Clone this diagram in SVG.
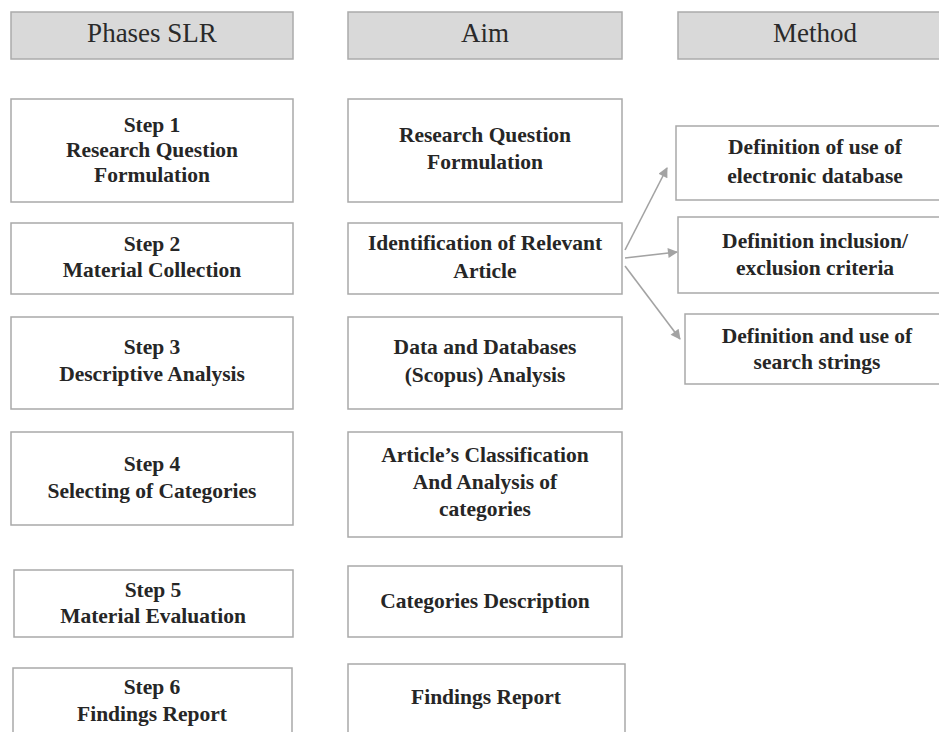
<svg xmlns="http://www.w3.org/2000/svg" width="939" height="732" viewBox="0 0 939 732">
<defs>
<style>
.hdr{fill:#d9d9d9;stroke:#ababab;stroke-width:1.5}
.box{fill:#ffffff;stroke:#a9a9a9;stroke-width:1.5}
.ht{font-family:"Liberation Serif","Times New Roman",serif;font-size:27px;fill:#2a2a2a;text-anchor:middle}
.bt{font-family:"Liberation Serif","Times New Roman",serif;font-size:21.5px;font-weight:bold;fill:#262626;text-anchor:middle}
.conn{stroke:#a3a3a3;stroke-width:1.6;fill:none;marker-end:url(#ah)}
</style>
<marker id="ah" viewBox="0 0 10 10" refX="9" refY="5" markerWidth="12" markerHeight="10" markerUnits="userSpaceOnUse" orient="auto">
<path d="M0,0 L10,5 L0,10 z" fill="#a3a3a3"/>
</marker>
</defs>
<rect width="939" height="732" fill="#ffffff"/>

<g id="hdr-phases"><rect class="hdr" x="11" y="12" width="282" height="47"/><text class="ht" x="152" y="42">Phases SLR</text></g>
<g id="hdr-aim"><rect class="hdr" x="348" y="12" width="274" height="47"/><text class="ht" x="485" y="42">Aim</text></g>
<g id="hdr-method"><rect class="hdr" x="678" y="12" width="274" height="47"/><text class="ht" x="815" y="42">Method</text></g>

<g id="step1"><rect class="box" x="11" y="99" width="282" height="103"/>
<text class="bt" x="152" y="132">Step 1</text><text class="bt" x="152" y="157">Research Question</text><text class="bt" x="152" y="182">Formulation</text></g>
<g id="step2"><rect class="box" x="11" y="223" width="282" height="71"/>
<text class="bt" x="152" y="251">Step 2</text><text class="bt" x="152" y="277">Material Collection</text></g>
<g id="step3"><rect class="box" x="11" y="317" width="282" height="92"/>
<text class="bt" x="152" y="354">Step 3</text><text class="bt" x="152" y="381">Descriptive Analysis</text></g>
<g id="step4"><rect class="box" x="11" y="432" width="282" height="93"/>
<text class="bt" x="152" y="471">Step 4</text><text class="bt" x="152" y="498">Selecting of Categories</text></g>
<g id="step5"><rect class="box" x="14" y="570" width="279" height="67"/>
<text class="bt" x="153" y="597">Step 5</text><text class="bt" x="153" y="623">Material Evaluation</text></g>
<g id="step6"><rect class="box" x="13" y="668" width="279" height="80"/>
<text class="bt" x="152" y="694">Step 6</text><text class="bt" x="152" y="721">Findings Report</text></g>

<g id="aim1"><rect class="box" x="348" y="99" width="274" height="103"/>
<text class="bt" x="485" y="142">Research Question</text><text class="bt" x="485" y="169">Formulation</text></g>
<g id="aim2"><rect class="box" x="348" y="223" width="274" height="71"/>
<text class="bt" x="485" y="250">Identification of Relevant</text><text class="bt" x="485" y="278">Article</text></g>
<g id="aim3"><rect class="box" x="348" y="317" width="274" height="92"/>
<text class="bt" x="485" y="354">Data and Databases</text><text class="bt" x="485" y="382">(Scopus) Analysis</text></g>
<g id="aim4"><rect class="box" x="348" y="432" width="274" height="105"/>
<text class="bt" x="485" y="462">Article’s Classification</text><text class="bt" x="485" y="489">And Analysis of</text><text class="bt" x="485" y="516">categories</text></g>
<g id="aim5"><rect class="box" x="348" y="566" width="274" height="71"/>
<text class="bt" x="485" y="608">Categories Description</text></g>
<g id="aim6"><rect class="box" x="348" y="664" width="277" height="84"/>
<text class="bt" x="486" y="704">Findings Report</text></g>

<g id="method1"><rect class="box" x="676" y="126" width="276" height="74"/>
<text class="bt" x="815" y="154">Definition of use of</text><text class="bt" x="815" y="183">electronic database</text></g>
<g id="method2"><rect class="box" x="678" y="217" width="274" height="76"/>
<text class="bt" x="815" y="248">Definition inclusion/</text><text class="bt" x="815" y="275">exclusion criteria</text></g>
<g id="method3"><rect class="box" x="685" y="314" width="267" height="70"/>
<text class="bt" x="817" y="343">Definition and use of</text><text class="bt" x="817" y="369">search strings</text></g>

<g id="connectors">
<line class="conn" x1="625" y1="250" x2="667" y2="168"/>
<line class="conn" x1="625" y1="258" x2="677" y2="252"/>
<line class="conn" x1="625" y1="266" x2="680" y2="339"/>
</g>
</svg>
